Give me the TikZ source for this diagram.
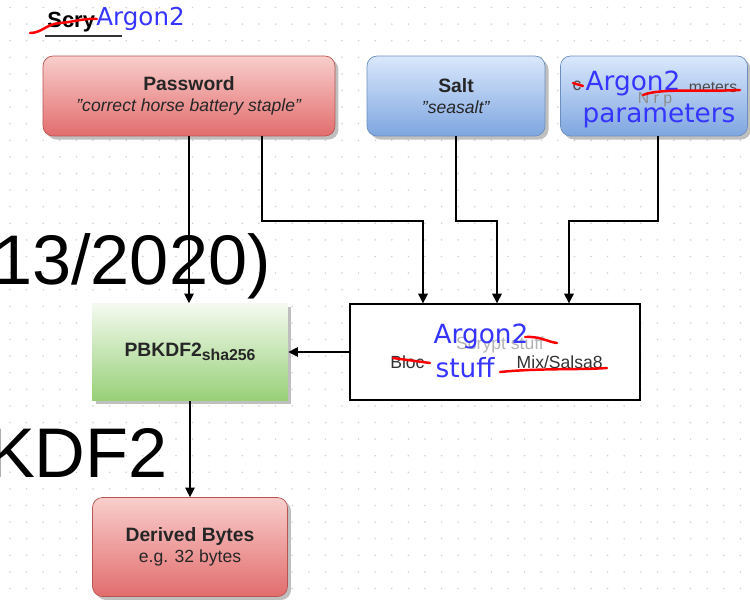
\documentclass[tikz,border=0pt]{standalone}
\usepackage{fontspec}
\defaultfontfeatures{}
\setmainfont{Liberation Sans}
\newfontfamily\handfont{DejaVu Sans}
\usetikzlibrary{arrows.meta,shadows}

\definecolor{redtop}{HTML}{F8CECC}
\definecolor{redbot}{HTML}{E26D6D}
\definecolor{redline}{HTML}{B85450}
\definecolor{bluetop}{HTML}{DAE8FC}
\definecolor{bluebot}{HTML}{7EA6E0}
\definecolor{blueline}{HTML}{6C8EBF}
\definecolor{greentop}{HTML}{F4FAF0}
\definecolor{greenbot}{HTML}{97D077}
\definecolor{ink}{HTML}{3535FF}
\definecolor{gridgray}{HTML}{CFCFCF}

\begin{document}
\begin{tikzpicture}[x=0.02cm,y=-0.02cm,
    box/.style={minimum height=1.6cm,align=center,text=black!85,
      font=\fontsize{10}{12}\selectfont,
      drop shadow={shadow xshift=2pt,shadow yshift=-2pt,opacity=0.25,fill=black}},
    redbox/.style={box,rounded corners=0.2cm,draw=redline,top color=redtop,bottom color=redbot},
    bluebox/.style={box,rounded corners=0.2cm,draw=blueline,top color=bluetop,bottom color=bluebot},
    flow/.style={line width=0.7pt,-{Triangle[length=5.5pt,width=5.5pt]}},
    hand/.style={text=ink,inner sep=0pt,font=\handfont\fontsize{15}{15}\selectfont},
    scrawl/.style={red,line width=1.4pt,line cap=round}]
  \useasboundingbox (0,0) rectangle (750,599);
  \clip (0,0) rectangle (750,599);
  % dotted grid
  \foreach \i in {0,...,45}
    \foreach \j in {0,...,36}
      \fill[gridgray] (10+16.6*\i,7.5+16.6*\j) circle (0.5pt);

  % slide text behind the diagram
  \node[anchor=base east,inner sep=0pt,font=\fontsize{40}{44}\selectfont] (yr) at (271,284) {13/2020)};
  \node[anchor=base east,inner sep=0pt,font=\fontsize{40}{44}\selectfont] (kdf) at (168,477) {KDF2};

  % title
  \node[anchor=base west,inner sep=0pt,font=\bfseries\fontsize{12.5}{12}\selectfont] (ti) at (47,27) {Scry};
  \draw[black!80,line width=0.7pt] (ti.south west) ++(-2,4) -- ++(77,0);
  \node[hand,anchor=west,font=\handfont\fontsize{14}{14}\selectfont] (tiarg) at (96,19) {Argon2};
  \draw[scrawl] (30,33) .. controls (42,33) and (46,24) .. (60,23) .. controls (74,22) and (84,18) .. (97,19);

  % inputs
  \node[redbox,minimum width=5.84cm] (pw) at (189,96)
    {\textbf{\fontsize{11}{12}\selectfont Password}\\\textit{"correct horse battery staple"}};
  \node[bluebox,minimum width=3.56cm] (sa) at (456,96)
    {\textbf{\fontsize{11}{12}\selectfont Salt}\\\textit{"seasalt"}};
  \node[bluebox,minimum width=3.74cm] (pa) at (654,96) {};
  \node[text=black!70,font=\fontsize{10}{10}\selectfont,inner sep=0pt] (pac) at (577,86) {c};
  \node[text=black!70,font=\fontsize{9}{9}\selectfont,inner sep=0pt] (pam) at (713,87) {meters};
  \node[text=black!45,font=\fontsize{9}{9}\selectfont,inner sep=0pt] (panrp) at (655,100) {N r p};
  \node[hand] (paarg) at (633,83) {Argon2};
  \node[hand] (papar) at (659,116) {parameters};
  \draw[scrawl] (573,83) -- (583,86);
  \draw[scrawl] (643,95) .. controls (660,88) and (700,92) .. (740,90);

  % processing
  \node[box,minimum width=3.92cm,minimum height=1.94cm,top color=greentop,bottom color=greenbot] (pb) at (190,352)
    {\textbf{\fontsize{11}{12}\selectfont PBKDF2\raisebox{-0.4ex}{\fontsize{9}{9}\selectfont sha256}}};
  \node[draw,line width=0.8pt,fill=white,minimum width=5.8cm,minimum height=1.92cm] (ar) at (495,352) {};
  \node[text=black!30,font=\fontsize{10}{10}\selectfont,inner sep=0pt] (arsc) at (500,345) {Scrypt stuff};
  \node[text=black!80,font=\fontsize{10}{10}\selectfont,inner sep=0pt,anchor=west] (arbl) at (390,362) {Bloc};
  \node[text=black!80,font=\fontsize{10}{10}\selectfont,inner sep=0pt,anchor=east] (armx) at (603,362) {Mix/Salsa8};
  \node[hand] (ararg) at (481,336) {Argon2};
  \node[hand] (arst) at (465,368) {stuff};
  \draw[scrawl] (525,337) .. controls (540,336) and (548,342) .. (557,343);
  \draw[scrawl] (393,358) -- (430,363);
  \draw[scrawl] (500,372) .. controls (540,368) and (580,370) .. (607,368);

  % output
  \node[redbox,minimum width=3.9cm,minimum height=1.98cm] (db) at (190,547)
    {\textbf{\fontsize{11}{12}\selectfont Derived Bytes}\\e.g. 32 bytes};

  % connectors
  \coordinate (pwknee) at (262,221);
  \coordinate (saknee) at (456,221);
  \coordinate (paknee) at (658,221);
  \draw[flow] (pw.south) -- (pw.south |- pb.north);
  \draw[flow] (pw.south -| pwknee) -- (pwknee) -| ([xshift=-1.44cm]ar.north);
  \draw[flow] (sa.south) -- (saknee) -| ([xshift=0.04cm]ar.north);
  \draw[flow] (pa.south -| paknee) -- (paknee) -| ([xshift=1.48cm]ar.north);
  \draw[flow] (ar.west) -- (pb.east);
  \draw[flow] (pb.south) -- (db.north);
\end{tikzpicture}
\end{document}
